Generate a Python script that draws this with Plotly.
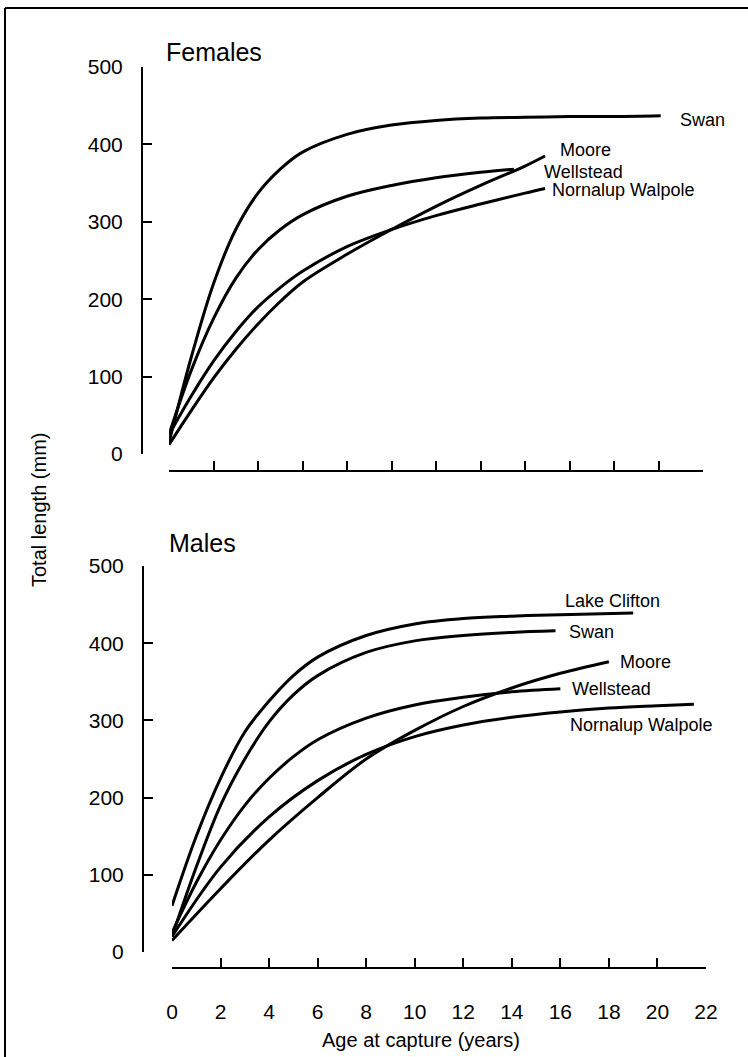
import plotly.graph_objects as go

W, H = 748, 1057

# ---- Growth curves, females (age in years, total length in mm) ----
f_swan_age = [0, 1, 2, 3, 4, 5, 6, 8, 10, 12, 14, 16, 18, 20, 22.1]
f_swan_len = [15, 125, 220, 290, 337, 368, 390, 413, 425, 431, 434, 435, 436, 436, 437]

f_wellstead_age = [0, 1, 2, 3, 4, 5, 6, 8, 10, 12, 14, 15.5]
f_wellstead_len = [25, 108, 175, 227, 264, 290, 309, 333, 347, 357, 364, 368]

f_nornalup_age = [0, 1, 2, 3, 4, 5, 6, 8, 10, 12, 14, 16, 16.9]
f_nornalup_len = [25, 75, 120, 158, 190, 215, 236, 268, 290, 308, 323, 337, 343]

f_moore_age = [0, 1, 2, 3, 4, 5, 6, 8, 10, 12, 14, 16, 16.9]
f_moore_len = [12, 56, 98, 135, 168, 197, 222, 258, 290, 320, 347, 372, 385]

# ---- Growth curves, males ----
m_clifton_age = [0, 1, 2, 3, 4, 5, 6, 8, 10, 12, 14, 16, 19]
m_clifton_len = [60, 150, 225, 285, 325, 358, 382, 410, 425, 432, 435, 437, 439]

m_swan_age = [0, 1, 2, 3, 4, 5, 6, 8, 10, 12, 14, 15.8]
m_swan_len = [20, 110, 190, 250, 298, 333, 358, 388, 403, 410, 414, 416]

m_moore_age = [0, 2, 4, 6, 8, 10, 12, 14, 16, 18]
m_moore_len = [15, 82, 145, 200, 250, 287, 318, 342, 361, 376]

m_wellstead_age = [0, 1, 2, 3, 4, 5, 6, 8, 10, 12, 14, 16]
m_wellstead_len = [25, 90, 145, 190, 225, 253, 275, 303, 320, 330, 337, 341]

m_nornalup_age = [0, 2, 4, 6, 8, 10, 12, 14, 16, 18, 20, 21.5]
m_nornalup_len = [20, 110, 175, 222, 256, 279, 294, 304, 311, 316, 319, 321]

y_ticks = [0, 100, 200, 300, 400, 500]
f_age_ticks = list(range(0, 25, 2))
m_age_ticks = list(range(0, 23, 2))

FONT = "Liberation Sans, Arial, Helvetica, sans-serif"


def px(x):
    return x / W


def py(y):
    return 1 - y / H


fig = go.Figure()

female_series = [
    (f_swan_age, f_swan_len),
    (f_wellstead_age, f_wellstead_len),
    (f_nornalup_age, f_nornalup_len),
    (f_moore_age, f_moore_len),
]
male_series = [
    (m_clifton_age, m_clifton_len),
    (m_swan_age, m_swan_len),
    (m_moore_age, m_moore_len),
    (m_wellstead_age, m_wellstead_len),
    (m_nornalup_age, m_nornalup_len),
]

for ages, lens in female_series:
    fig.add_trace(go.Scatter(x=ages, y=lens, mode="lines", xaxis="x", yaxis="y",
                             line=dict(color="black", width=3, shape="spline", smoothing=1.0),
                             showlegend=False, hoverinfo="skip"))
for ages, lens in male_series:
    fig.add_trace(go.Scatter(x=ages, y=lens, mode="lines", xaxis="x2", yaxis="y2",
                             line=dict(color="black", width=3, shape="spline", smoothing=1.0),
                             showlegend=False, hoverinfo="skip"))

axis_common = dict(showgrid=False, zeroline=False, showline=True, linecolor="black",
                   linewidth=2, ticks="inside", ticklen=9, tickwidth=2, tickcolor="black",
                   fixedrange=True, automargin=False)

fig.update_layout(
    width=W, height=H,
    margin=dict(l=0, r=0, t=0, b=0, pad=0),
    paper_bgcolor="white", plot_bgcolor="white",
    font=dict(family=FONT, color="black"),
    xaxis=dict(axis_common, range=[0, 24], tickvals=f_age_ticks, showticklabels=False,
               domain=[px(169), px(703)], anchor="free", position=py(471)),
    yaxis=dict(axis_common, range=[0, 500], tickvals=y_ticks,
               tickfont=dict(size=21), ticklabelstandoff=14,
               domain=[py(454), py(67)], anchor="free", position=px(142)),
    xaxis2=dict(axis_common, range=[0, 22], tickvals=m_age_ticks,
                tickfont=dict(size=21), ticklabelstandoff=25,
                domain=[px(172), px(706)], anchor="free", position=py(968)),
    yaxis2=dict(axis_common, range=[0, 500], tickvals=y_ticks,
                tickfont=dict(size=21), ticklabelstandoff=14,
                domain=[py(952), py(566)], anchor="free", position=px(143)),
)

annotations = [
    dict(text="Females", x=px(164), y=py(52), size=25),
    dict(text="Males", x=px(167), y=py(543), size=25),
    dict(text="Swan", x=px(678), y=py(120), size=18),
    dict(text="Moore", x=px(558), y=py(150), size=18),
    dict(text="Wellstead", x=px(542), y=py(172), size=18),
    dict(text="Nornalup Walpole", x=px(550), y=py(190), size=18),
    dict(text="Lake Clifton", x=px(563), y=py(601), size=18),
    dict(text="Swan", x=px(567), y=py(632), size=18),
    dict(text="Moore", x=px(618), y=py(662), size=18),
    dict(text="Wellstead", x=px(570), y=py(689), size=18),
    dict(text="Nornalup Walpole", x=px(568), y=py(725), size=18),
]
for a in annotations:
    fig.add_annotation(text=a["text"], x=a["x"], y=a["y"], xref="paper", yref="paper",
                       xanchor="left", yanchor="middle", showarrow=False,
                       font=dict(family=FONT, size=a["size"], color="black"))

fig.add_annotation(text="Total length (mm)", x=px(39), y=py(510), xref="paper", yref="paper",
                   textangle=-90, showarrow=False, xanchor="center", yanchor="middle",
                   font=dict(family=FONT, size=20, color="black"))
fig.add_annotation(text="Age at capture (years)", x=px(421), y=py(1040), xref="paper", yref="paper",
                   showarrow=False, xanchor="center", yanchor="middle",
                   font=dict(family=FONT, size=20, color="black"))

# outer frame: top and left edges
frame = dict(color="black", width=2)
fig.add_shape(type="line", xref="paper", yref="paper",
              x0=px(5), x1=1, y0=py(8), y1=py(8), line=frame)
fig.add_shape(type="line", xref="paper", yref="paper",
              x0=px(5), x1=px(5), y0=0, y1=py(8), line=frame)

# page without body margin so the figure sits flush in the window
fig.write_html("out.html",
               post_script="document.body.style.margin='0';document.body.style.overflow='hidden';")
